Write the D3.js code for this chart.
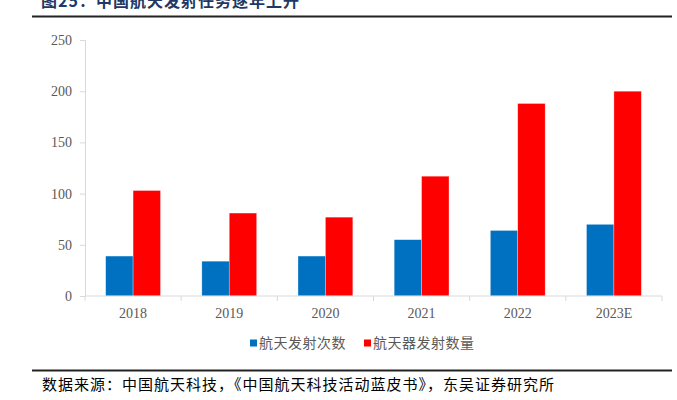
<!DOCTYPE html>
<html>
<head>
<meta charset="utf-8">
<script src="https://cdn.jsdelivr.net/npm/d3@7/dist/d3.min.js"></script>
<style>
  body { margin: 0; background: #fff; }
  svg { display: block; }
</style>
</head>
<body>
<div id="container"></div>
<script>
let w = 677;
let h = 400;

let years = ["2018", "2019", "2020", "2021", "2022", "2023E"];
let launches = [39, 34, 39, 55, 64, 70];
let spacecraft = [103, 81, 77, 117, 188, 200];
let yTicks = [0, 50, 100, 150, 200, 250];
let seriesNames = ["航天发射次数", "航天器发射数量"];
let colors = ["#0070C0", "#FF0000"];

let cjk = "'Noto Sans CJK SC', sans-serif";
let serif = "'Liberation Serif', 'Times New Roman', serif";

let viz = d3.select("#container")
  .append("svg")
  .attr("width", w)
  .attr("height", h);

// title, cut off at the top like the source
viz.append("text")
  .attr("x", 41)
  .attr("y", 7)
  .attr("fill", "#1F3864")
  .attr("font-family", cjk)
  .attr("font-weight", "bold")
  .attr("font-size", 16)
  .attr("letter-spacing", 1)
  .text("图25：中国航天发射任务逐年上升");

viz.append("line")
  .attr("x1", 32).attr("x2", 672)
  .attr("y1", 16.5).attr("y2", 16.5)
  .attr("stroke", "#222").attr("stroke-width", 2);

let x = d3.scaleBand()
  .domain(years)
  .range([85, 662])
  .paddingInner(0.43)
  .paddingOuter(0.215);

let x1 = d3.scaleBand()
  .domain([0, 1])
  .range([0, x.bandwidth()]);

let y = d3.scaleLinear()
  .domain([0, 250])
  .range([296, 40]);

// y axis
let yAxis = viz.append("g")
  .attr("transform", "translate(85,0)")
  .call(d3.axisLeft(y).tickValues(yTicks).tickSize(5).tickPadding(8));
yAxis.select(".domain").attr("stroke", "#d9d9d9");
yAxis.selectAll(".tick line").attr("stroke", "#d9d9d9");
yAxis.selectAll("text")
  .attr("fill", "#595959")
  .attr("font-family", serif)
  .attr("font-size", 14);

// bars
let groups = viz.selectAll(".year").data(years).enter()
  .append("g")
  .attr("class", "year")
  .attr("transform", d => "translate(" + x(d) + ",0)");

groups.append("rect")
  .attr("x", x1(0))
  .attr("y", (d, i) => y(launches[i]))
  .attr("width", x1.bandwidth())
  .attr("height", (d, i) => y(0) - y(launches[i]))
  .attr("fill", colors[0])
  .attr("stroke", "#ffffff")
  .attr("stroke-opacity", 0.5)
  .attr("stroke-width", 0.6);

groups.append("rect")
  .attr("x", x1(1))
  .attr("y", (d, i) => y(spacecraft[i]))
  .attr("width", x1.bandwidth())
  .attr("height", (d, i) => y(0) - y(spacecraft[i]))
  .attr("fill", colors[1])
  .attr("stroke", "#ffffff")
  .attr("stroke-opacity", 0.5)
  .attr("stroke-width", 0.6);

// x axis with ticks between categories
let xAxisG = viz.append("g");
xAxisG.append("line")
  .attr("x1", 85).attr("x2", 662)
  .attr("y1", y(0)).attr("y2", y(0))
  .attr("stroke", "#d9d9d9");
let step = x.step();
let bounds = years.map((d, i) => 85 + i * step).concat([662]);
xAxisG.selectAll(".xt").data(bounds).enter()
  .append("line")
  .attr("x1", d => d).attr("x2", d => d)
  .attr("y1", y(0)).attr("y2", y(0) + 5)
  .attr("stroke", "#d9d9d9");
xAxisG.selectAll(".xl").data(years).enter()
  .append("text")
  .attr("x", d => x(d) + x.bandwidth() / 2)
  .attr("y", y(0) + 22)
  .attr("text-anchor", "middle")
  .attr("fill", "#595959")
  .attr("font-family", serif)
  .attr("font-size", 14)
  .text(d => d);

// legend
let legendX = [250, 364];
let legend = viz.selectAll(".legend").data(seriesNames).enter()
  .append("g")
  .attr("class", "legend")
  .attr("transform", (d, i) => "translate(" + legendX[i] + ",343)");
legend.append("rect")
  .attr("x", 0).attr("y", -3.5)
  .attr("width", 7).attr("height", 7)
  .attr("fill", (d, i) => colors[i]);
legend.append("text")
  .attr("x", 9)
  .attr("y", 5)
  .attr("fill", "#595959")
  .attr("font-family", cjk)
  .attr("font-size", 14)
  .attr("letter-spacing", 0.5)
  .text(d => d);

// bottom rule and source
viz.append("line")
  .attr("x1", 32).attr("x2", 672)
  .attr("y1", 370.5).attr("y2", 370.5)
  .attr("stroke", "#222").attr("stroke-width", 2);

viz.append("text")
  .attr("x", 42)
  .attr("y", 390)
  .attr("fill", "#000")
  .attr("font-family", cjk)
  .attr("font-size", 15)
  .attr("letter-spacing", 1)
  .text("数据来源：中国航天科技，《中国航天科技活动蓝皮书》，东吴证券研究所");
</script>
</body>
</html>
